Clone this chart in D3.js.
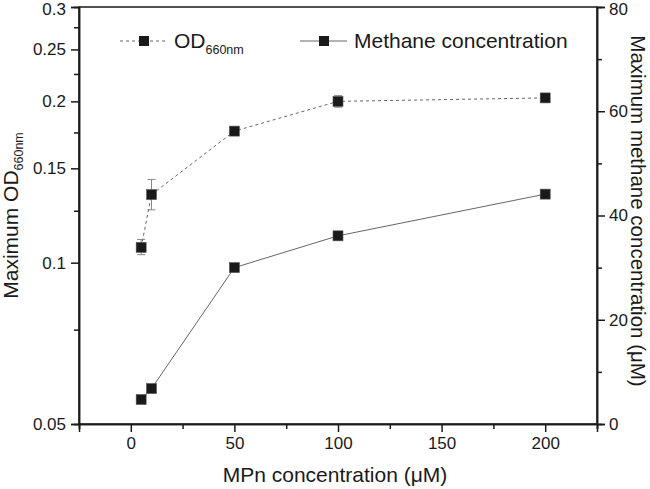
<!DOCTYPE html>
<html><head><meta charset="utf-8">
<script src="https://cdn.jsdelivr.net/npm/d3@7/dist/d3.min.js"></script>
<style>body{margin:0;background:#fff}svg{display:block}text{font-family:"Liberation Sans",Arial,sans-serif;fill:#1a1a1a}</style>
</head><body><svg id="c" width="650" height="489"></svg>
<script>
const mpn = [5, 10, 50, 100, 200];
const od = [0.1068, 0.134, 0.176, 0.200, 0.203];
const odErrLow = [0.1035, 0.1255, 0.176, 0.195, 0.203];
const odErrHigh = [0.1105, 0.143, 0.176, 0.205, 0.203];
const methane = [4.7, 6.8, 30.0, 36.1, 44.1];
const xTicks = [0, 50, 100, 150, 200];
const leftTicks = [0.05, 0.1, 0.15, 0.2, 0.25, 0.3];
const leftMinor = [0.075, 0.125, 0.175, 0.225, 0.275];
const rightTicks = [0, 20, 40, 60, 80];
const rightMinor = [10, 30, 50, 70];
const xMinor = [-25, 25, 75, 125, 175, 225];

const svg = d3.select("#c");
const L = 79, R = 597, T = 7, B = 424;
const x = d3.scaleLinear().domain([-25, 225]).range([L, R]);
const yL = d3.scaleLog().domain([0.05, 0.3]).range([B, T]);
const yR = d3.scaleLinear().domain([0, 80]).range([B, T]);

svg.append("rect").attr("x", L).attr("y", T).attr("width", R - L).attr("height", B - T)
  .attr("fill", "none").attr("stroke", "#1a1a1a").attr("stroke-width", 1.5);

const fmtL = d => String(+d.toFixed(2));
const styleAxis = g => { g.select(".domain").attr("stroke", "#1a1a1a").attr("stroke-width", 1.5);
  g.selectAll(".tick line").attr("stroke", "#1a1a1a").attr("stroke-width", 1.5);
  g.selectAll("text").attr("fill", "#1a1a1a").style("font-size", "17px").style("font-family", "Liberation Sans, Arial, sans-serif"); };
// keep the topmost tick label inside the picture
const nudgeTop = g => g.selectAll(".tick text").filter((d, i, n) => i === n.length - 1)
  .attr("transform", "translate(0,2.5)");

svg.append("g").attr("transform", `translate(0,${B})`)
  .call(d3.axisBottom(x).tickValues(xTicks).tickSize(8).tickPadding(5)).call(styleAxis);
svg.append("g").attr("transform", `translate(0,${B})`)
  .call(d3.axisBottom(x).tickValues(xMinor).tickSize(5).tickFormat("")).call(styleAxis);

svg.append("g").attr("transform", `translate(${L},0)`)
  .call(d3.axisLeft(yL).tickValues(leftTicks).tickFormat(fmtL).tickSize(8).tickPadding(5)).call(styleAxis).call(nudgeTop);
svg.append("g").attr("transform", `translate(${L},0)`)
  .call(d3.axisLeft(yL).tickValues(leftMinor).tickFormat("").tickSize(5)).call(styleAxis);

svg.append("g").attr("transform", `translate(${R},0)`)
  .call(d3.axisRight(yR).tickValues(rightTicks).tickSize(8).tickPadding(4)).call(styleAxis).call(nudgeTop);
svg.append("g").attr("transform", `translate(${R},0)`)
  .call(d3.axisRight(yR).tickValues(rightMinor).tickFormat("").tickSize(5)).call(styleAxis);

const odData = mpn.map((m, i) => ({m, v: od[i], lo: odErrLow[i], hi: odErrHigh[i]}));
const meData = mpn.map((m, i) => ({m, v: methane[i]}));

svg.append("path").datum(odData)
  .attr("d", d3.line().x(d => x(d.m)).y(d => yL(d.v)))
  .attr("fill", "none").attr("stroke", "#666").attr("stroke-width", 1).attr("stroke-dasharray", "3,3");
svg.append("path").datum(meData)
  .attr("d", d3.line().x(d => x(d.m)).y(d => yR(d.v)))
  .attr("fill", "none").attr("stroke", "#666").attr("stroke-width", 1);

const eb = svg.append("g").attr("stroke", "#888").attr("stroke-width", 1);
odData.filter(d => d.hi > d.lo).forEach(d => {
  eb.append("line").attr("x1", x(d.m)).attr("x2", x(d.m)).attr("y1", yL(d.lo)).attr("y2", yL(d.hi));
  [d.lo, d.hi].forEach(v => eb.append("line").attr("x1", x(d.m) - 4).attr("x2", x(d.m) + 4).attr("y1", yL(v)).attr("y2", yL(v)));
});

const S = 10;
svg.append("g").selectAll("rect").data(odData).join("rect")
  .attr("x", d => x(d.m) - S / 2).attr("y", d => yL(d.v) - S / 2).attr("width", S).attr("height", S)
  .attr("fill", "#1a1a1a").attr("stroke", "#555").attr("stroke-width", 0.6);
svg.append("g").selectAll("rect").data(meData).join("rect")
  .attr("x", d => x(d.m) - S / 2).attr("y", d => yR(d.v) - S / 2).attr("width", S).attr("height", S)
  .attr("fill", "#1a1a1a").attr("stroke", "#555").attr("stroke-width", 0.6);

const ly = 41;
svg.append("line").attr("x1", 120).attr("x2", 167).attr("y1", ly).attr("y2", ly)
  .attr("stroke", "#666").attr("stroke-dasharray", "3,3");
svg.append("rect").attr("x", 144 - 5).attr("y", ly - 5).attr("width", 10).attr("height", 10).attr("fill", "#1a1a1a");
const t1 = svg.append("text").attr("x", 174).attr("y", ly + 7).style("font-size", "21px");
t1.append("tspan").text("OD");
t1.append("tspan").attr("dy", 6).style("font-size", "12.5px").text("660nm");
svg.append("line").attr("x1", 300).attr("x2", 347).attr("y1", ly).attr("y2", ly).attr("stroke", "#666");
svg.append("rect").attr("x", 324 - 5).attr("y", ly - 5).attr("width", 10).attr("height", 10).attr("fill", "#1a1a1a");
svg.append("text").attr("x", 354).attr("y", ly + 7).style("font-size", "21px").text("Methane concentration");

svg.append("text").attr("x", 335).attr("y", 482).attr("text-anchor", "middle")
  .style("font-size", "21px").text("MPn concentration (μM)");
const yt = svg.append("text").attr("transform", `translate(18,${(T + B) / 2}) rotate(-90)`)
  .attr("text-anchor", "middle").style("font-size", "21px");
yt.append("tspan").text("Maximum OD");
yt.append("tspan").attr("dy", 5).style("font-size", "12.5px").text("660nm");
svg.append("text").attr("transform", `translate(631,211) rotate(90)`)
  .attr("text-anchor", "middle").style("font-size", "20.5px").text("Maximum methane concentration (μM)");
</script></body></html>
